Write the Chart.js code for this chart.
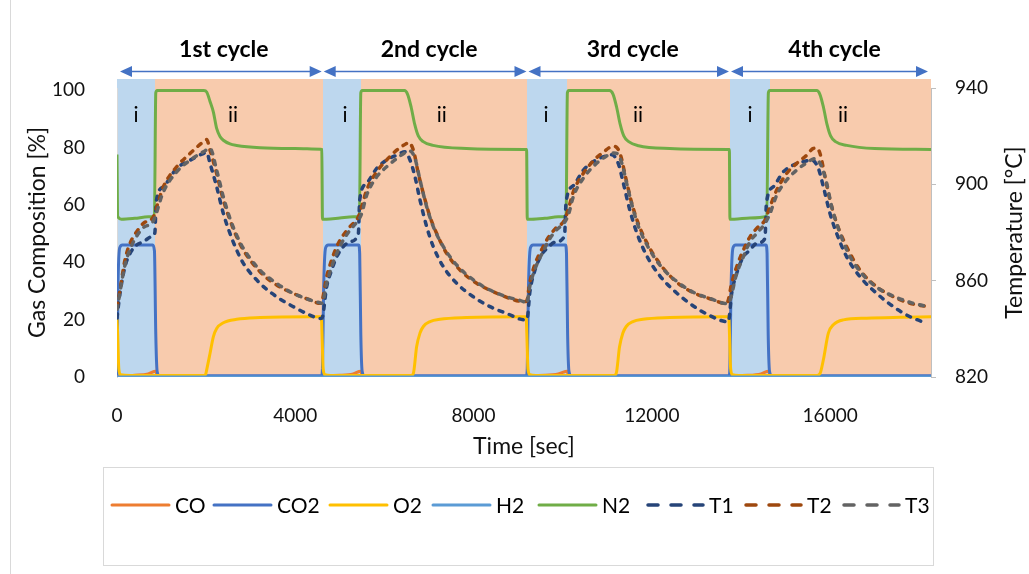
<!DOCTYPE html>
<html><head><meta charset="utf-8">
<script src="https://cdn.jsdelivr.net/npm/chart.js@4.4.1/dist/chart.umd.min.js"></script>
<style>html,body{margin:0;padding:0;background:#fff;}#wrap{width:1029px;height:574px;position:relative;}</style>
</head><body><div id="wrap"><canvas id="c" width="1029" height="574"></canvas></div>
<script>
// ---------- axis ticks ----------
const xTicks = [0, 4000, 8000, 12000, 16000];
const gasTicks = [0, 20, 40, 60, 80, 100];
const tempTicks = [820, 860, 900, 940];

// ---------- cycles / phases ----------
const cycleLabels = ['1st cycle', '2nd cycle', '3rd cycle', '4th cycle'];
const cycleStart = [0, 4615, 9210, 13754];
const oxidStart = [853, 5475, 10103, 14651];
const cycleEnd = [4615, 9210, 13754, 18263];
const phaseILabelT = [426, 5116, 9626, 14203];
const phaseIILabelT = [2603, 7285, 11690, 16289];
const phaseLabelGas = 91.2;

// ---------- gas composition [%] ----------
const coT = [0,400,700,830,870,900,960,4590, 4610,5000,5300,5430,5470,5500,5560,9180, 9200,9600,9900,10060,10100,10130,10190,13730, 13745,14150,14450,14580,14620,14650,14710,18263];
const coV = [0.3,0.6,1.1,1.9,2.0,0.4,0.2,0.2, 0.3,0.6,1.1,1.9,2.0,0.4,0.2,0.2, 0.3,0.6,1.1,1.9,2.0,0.4,0.2,0.2, 0.3,0.6,1.1,1.9,2.0,0.4,0.2,0.2];

const co2T = [0,20,60,120,500,800,840,870,900,950, 4590,4610,4635,4680,4740,5420,5445,5470,5500,5550, 9185,9205,9230,9275,9335,10060,10085,10110,10140,10190, 13735,13750,13775,13820,13880,14560,14585,14610,14640,14690,18263];
const co2V = [0.5,30,45,46,46,46,44,15,2,0.4, 0.4,3,30,45,46,46,43,15,2,0.4, 0.4,3,30,45,46,46,43,15,2,0.4, 0.4,3,30,45,46,46,43,15,2,0.4,0.4];

const o2T = [0,15,40,80,300,1950,1990,2012,2087,2161,2236,2386,2685,3209,4330,4585, 4600,4625,4665,4800,6600,6649,6723,6798,6873,7023,7247,7838,9042,9180, 9195,9220,9260,9400,11150,11200,11275,11350,11425,11575,11800,12400,13600,13725, 13742,13767,13807,13950,15700,15773,15848,15960,16072,16296,16820,17568,18263];
const o2V = [20.2,15,3,0.8,0.5,0.5,1.0,2.5,8.2,14.0,16.9,18.9,20.1,20.7,21.0,21.0, 15,3,0.8,0.5,0.5,1.2,10.6,15.3,17.6,19.3,20.1,20.7,21.0,21.0, 15,3,0.8,0.5,0.5,1.2,10.5,15.3,17.6,19.3,20.1,20.7,21.0,21.0, 15,3,0.8,0.5,0.5,1.2,6.0,15.3,18.2,19.9,20.5,20.8,21.0];

const h2T = [0, 18263];
const h2V = [0, 0];

const n2T = [0,15,100,400,700,840,870,900,1950,2012,2087,2161,2236,2311,2386,2535,2685,3209,4000,4575, 4595,4610,4700,5000,5300,5440,5470,5500,6450,6520,6600,6680,6760,6870,7090,7840,9140, 9190,9205,9300,9600,9900,10075,10105,10135,11050,11130,11210,11290,11370,11480,11700,12400,13720, 13739,13752,13850,14200,14580,14614,14644,15700,15770,15850,15930,16010,16120,16373,17000,18263];
const n2V = [77.5,56,55,55.3,55.8,56,99,99.8,99.8,99.3,96,92.4,86.6,83.8,82.5,81.2,80.7,79.9,79.6,79.4, 79.3,55,55,55.4,55.8,56,99,99.8,99.8,98.5,94,88,84,82,80.7,79.6,79.3, 79.3,55,55,55.3,55.8,56,99,99.8,99.8,98.5,94,88,84,82,80.6,79.6,79.3, 79.3,55,55,55.4,56,99,99.8,99.8,98.5,94,88,84,82,80.7,79.6,79.3];

// ---------- temperatures [°C] ----------
const t1T = [0,67,179,292,441,591,815,850,880,1040,1339,1638,1937,2012,2087,2236,2386,2535,2685,2835,3208,3582,3956,4330,4555,
  4600,4704,4816,4929,5078,5228,5415,5445,5602,5826,6050,6275,6462,6574,6686,6798,6948,7097,7322,7621,7995,8369,8743,9150,
  9200,9265,9380,9530,9680,9830,10040,10075,10240,10460,10690,10920,11100,11250,11360,11510,11660,11880,12180,12550,12930,13300,13690,
  13716,13791,13903,14053,14202,14352,14539,14570,14726,14950,15174,15399,15586,15736,15848,15997,16147,16371,16671,17045,17419,17793,18167];
const t1V = [844.5,854.7,865.8,871.3,874.8,876.2,878.9,880.0,892.8,899.0,906.6,910.0,912.8,913.2,908.7,899.0,887.9,879.6,872.7,867.2,858.9,853.3,849.2,845.7,844.3,
  844.5,857.5,864.4,869.9,874.1,876.2,879.6,893.5,900.4,906.6,910.1,912.1,913.5,910.1,903.1,893.5,882.4,874.1,865.8,858.9,853.3,849.2,846.4,843.7,
  844.0,855.5,864.5,870.8,874.0,876.0,878.5,892.5,899.5,905.8,909.5,911.5,912.3,908.5,900.5,889.0,880.0,870.5,862.0,855.0,849.5,845.5,843.0,
  843.0,854.7,863.0,869.9,872.7,875.5,877.6,892.1,899.0,905.2,908.0,909.4,910.1,906.6,899.0,887.9,879.6,869.9,861.6,854.7,849.2,845.0,842.3];

const t2T = [0,67,179,292,441,591,815,927,1040,1339,1638,1937,2012,2087,2236,2386,2535,2685,2835,3208,3582,3956,4330,4555,
  4600,4704,4816,4929,5078,5228,5415,5489,5602,5826,6050,6275,6499,6537,6649,6761,6873,7023,7172,7397,7696,8070,8444,8818,9117,
  9190,9265,9380,9530,9680,9830,10050,10130,10240,10460,10690,10920,11130,11200,11300,11410,11530,11680,11880,12180,12550,12930,13300,13680,
  13716,13791,13903,14053,14202,14352,14539,14651,14801,15025,15249,15474,15623,15698,15773,15885,15997,16147,16371,16670,17044,17418,17792,18203];
const t2V = [849.0,856.1,868.6,875.5,880.3,883.8,886.5,892.8,899.0,907.3,912.8,917.7,918.6,914.2,904.5,893.5,885.2,878.2,872.7,863.7,858.2,854.7,852.0,850.6,
  851.5,861.6,868.6,874.1,878.9,882.4,886.5,890.7,897.6,905.2,910.1,914.2,917.0,917.4,914.2,904.5,896.2,886.5,879.6,871.3,864.4,858.9,855.4,852.6,851.3,
  851.5,859.5,867.0,873.0,878.0,881.5,885.5,890.0,897.0,904.5,909.8,913.5,915.8,915.5,912.0,903.0,893.5,884.5,876.0,867.0,859.5,855.0,852.5,850.5,
  852.0,858.9,865.8,872.7,878.2,881.7,885.2,890.7,897.6,904.5,908.7,912.1,914.9,915.0,912.8,903.1,893.5,883.8,874.1,864.4,857.5,853.3,850.6,849.2];

const t3T = [0,179,292,441,591,815,1040,1339,1638,1937,2087,2236,2386,2535,2685,2835,3208,3582,3956,4330,4555,
  4600,4704,4816,4929,5078,5228,5415,5489,5602,5826,6050,6275,6499,6574,6686,6798,6948,7097,7322,7621,7995,8369,8743,9117,
  9190,9265,9380,9530,9680,9830,10050,10130,10240,10460,10690,10920,11150,11240,11330,11440,11560,11700,11900,12200,12570,12950,13320,13680,
  13716,13903,14053,14202,14352,14539,14651,14801,15025,15249,15474,15661,15810,15923,16035,16184,16409,16708,17082,17456,17830,18203];
const t3V = [848.0,866.5,873.0,878.5,882.0,884.8,896.9,905.2,910.0,913.5,914.9,905.9,894.8,885.8,878.9,873.4,864.4,858.9,854.7,852.0,850.8,
  850.6,858.9,865.8,871.3,876.9,881.0,885.2,887.9,895.5,903.1,907.3,910.7,913.5,913.8,910.7,901.8,890.7,882.4,874.1,866.5,860.3,856.1,853.3,851.3,
  850.5,858.0,865.0,871.0,876.5,880.5,884.5,887.5,895.0,902.5,907.5,911.0,913.0,912.5,908.5,900.0,891.0,882.5,874.5,866.0,859.5,855.0,852.5,850.5,
  850.6,863.0,869.9,876.2,879.6,883.8,887.9,895.5,901.8,905.9,908.9,910.7,907.3,900.4,890.7,881.7,871.3,863.0,856.8,853.3,850.8,849.2];

// ---------- build ----------
const pts = (ts, vs) => ts.map((t, i) => ({x: t, y: vs[i]}));
const FONT = 'Lato, "Open Sans", sans-serif';
const TXT = '#111';
const TITLE_SIZE = 23;

function gasDs(label, ts, vs, color, order) {
  return {label, data: pts(ts, vs), yAxisID: 'y', borderColor: color, backgroundColor: color,
    borderWidth: 3, pointRadius: 0, cubicInterpolationMode: 'monotone', order, fill: false};
}
function tempDs(label, ts, vs, color, order) {
  return {label, data: pts(ts, vs), yAxisID: 'y2', borderColor: color, backgroundColor: color,
    borderWidth: 3.5, borderDash: [4, 7], borderCapStyle: 'round', pointRadius: 0,
    cubicInterpolationMode: 'monotone', order, fill: false};
}

const datasets = [
  gasDs('CO', coT, coV, '#ED7D31', 8),
  gasDs('CO2', co2T, co2V, '#4472C4', 7),
  gasDs('O2', o2T, o2V, '#FFC000', 6),
  gasDs('H2', h2T, h2V, '#5B9BD5', 5),
  gasDs('N2', n2T, n2V, '#70AD47', 4),
  tempDs('T1', t1T, t1V, '#264478', 3),
  tempDs('T2', t2T, t2V, '#9E480E', 2),
  tempDs('T3', t3T, t3V, '#636363', 1)
];

const legendX = [112, 214, 330, 433, 539, 646, 744, 842];

const decor = {
  id: 'decor',
  beforeDraw(chart) {
    const {ctx, chartArea: a, scales: {x}} = chart;
    ctx.save();
    const top = a.top - 9;
    for (let k = 0; k < cycleStart.length; k++) {
      const x0 = Math.round(x.getPixelForValue(cycleStart[k]));
      const x1 = Math.round(x.getPixelForValue(oxidStart[k]));
      const x2 = Math.round(x.getPixelForValue(cycleEnd[k]));
      ctx.fillStyle = '#BDD7EE';
      ctx.fillRect(x0, top, x1 - x0, a.bottom - top);
      ctx.fillStyle = '#F8CBAD';
      ctx.fillRect(x1, top, x2 - x1, a.bottom - top);
    }
    ctx.restore();
  },
  afterDraw(chart) {
    const {ctx, chartArea: a, scales: {x, y}} = chart;
    ctx.save();
    // outer border (left)
    ctx.strokeStyle = '#d9d9d9'; ctx.lineWidth = 1;
    ctx.beginPath(); ctx.moveTo(10.5, 0); ctx.lineTo(10.5, 574); ctx.stroke();

    // right axis title (reads bottom-to-top)
    ctx.save();
    ctx.translate(1015, (a.top + a.bottom) / 2);
    ctx.rotate(-Math.PI / 2);
    ctx.fillStyle = TXT; ctx.font = TITLE_SIZE + 'px ' + FONT;
    ctx.textAlign = 'center'; ctx.textBaseline = 'middle';
    ctx.fillText('Temperature [°C]', 0, 0);
    ctx.restore();

    // arrows + cycle headings
    const ay = a.top - 16.5;
    ctx.strokeStyle = '#4472C4'; ctx.fillStyle = '#4472C4'; ctx.lineWidth = 1.5;
    for (let k = 0; k < cycleStart.length; k++) {
      const xs = x.getPixelForValue(cycleStart[k]) + (k === 0 ? 3 : 1);
      const xe = x.getPixelForValue(cycleEnd[k]) - (k === cycleStart.length - 1 ? 3 : 1);
      ctx.beginPath(); ctx.moveTo(xs + 6, ay); ctx.lineTo(xe - 6, ay); ctx.stroke();
      ctx.beginPath(); ctx.moveTo(xs, ay); ctx.lineTo(xs + 12, ay - 5.5); ctx.lineTo(xs + 12, ay + 5.5); ctx.closePath(); ctx.fill();
      ctx.beginPath(); ctx.moveTo(xe, ay); ctx.lineTo(xe - 12, ay - 5.5); ctx.lineTo(xe - 12, ay + 5.5); ctx.closePath(); ctx.fill();
    }
    ctx.fillStyle = '#000';
    ctx.font = 'bold 23px ' + FONT;
    ctx.textAlign = 'center'; ctx.textBaseline = 'alphabetic';
    for (let k = 0; k < cycleStart.length; k++) {
      const cx = (x.getPixelForValue(cycleStart[k]) + x.getPixelForValue(cycleEnd[k])) / 2 + 4;
      ctx.fillText(cycleLabels[k], cx, 57);
    }
    // phase labels
    ctx.font = '21px ' + FONT; ctx.textBaseline = 'middle';
    const py = y.getPixelForValue(phaseLabelGas);
    for (let k = 0; k < phaseILabelT.length; k++) {
      ctx.fillText('i', x.getPixelForValue(phaseILabelT[k]), py);
      ctx.fillText('ii', x.getPixelForValue(phaseIILabelT[k]), py);
    }
    // legend box
    ctx.strokeStyle = '#d9d9d9'; ctx.lineWidth = 1;
    ctx.strokeRect(103.5, 467.5, 830, 98);
    const ly = 505;
    ctx.font = '21px ' + FONT; ctx.textAlign = 'left'; ctx.textBaseline = 'middle';
    chart.data.datasets.forEach((ds, i) => {
      const lx = legendX[i];
      ctx.strokeStyle = ds.borderColor;
      ctx.lineWidth = 3;
      if (ds.borderDash) { ctx.setLineDash([10, 13]); ctx.lineCap = 'round'; ctx.lineWidth = 3.5; }
      else { ctx.setLineDash([]); ctx.lineCap = 'round'; }
      ctx.beginPath();
      ctx.moveTo(lx + (ds.borderDash ? 2 : 0), ly); ctx.lineTo(lx + 57, ly); ctx.stroke();
      ctx.setLineDash([]);
      ctx.fillStyle = '#000';
      ctx.fillText(ds.label, lx + 63, ly + 1);
    });
    ctx.restore();
  }
};

new Chart(document.getElementById('c'), {
  type: 'line',
  data: {datasets},
  options: {
    responsive: false, animation: false, devicePixelRatio: 1,
    layout: {padding: {top: 88, left: 0, right: 0, bottom: 114}},
    plugins: {legend: {display: false}, tooltip: {enabled: false}},
    elements: {line: {tension: 0}},
    scales: {
      x: {
        type: 'linear', position: 'bottom', min: 0, max: 18263,
        afterBuildTicks: s => { s.ticks = xTicks.map(v => ({value: v})); },
        afterFit: s => { s.height = 83; },
        grid: {display: false}, border: {display: false},
        ticks: {padding: 19, color: TXT, font: {family: FONT, size: 19}, callback: v => String(v), maxRotation: 0},
        title: {display: true, text: 'Time [sec]', color: TXT, font: {family: FONT, size: TITLE_SIZE}, padding: {top: 0, bottom: 0}}
      },
      y: {
        type: 'linear', position: 'left', min: 0, max: 100.7,
        afterBuildTicks: s => { s.ticks = gasTicks.map(v => ({value: v})); },
        afterFit: s => { s.width = 117; },
        grid: {display: false}, border: {display: true, color: '#d9d9d9', width: 1},
        ticks: {padding: 24, color: TXT, font: {family: FONT, size: 19}},
        title: {display: true, text: 'Gas Composition [%]', color: TXT, font: {family: FONT, size: TITLE_SIZE}, padding: {top: 24, bottom: 0}}
      },
      y2: {
        type: 'linear', position: 'right', min: 820, max: 940,
        afterBuildTicks: s => { s.ticks = tempTicks.map(v => ({value: v})); },
        afterFit: s => { s.width = 98; },
        grid: {display: true, drawOnChartArea: false, drawTicks: true, tickLength: 5, color: '#bfbfbf'},
        border: {display: true, color: '#bfbfbf', width: 1},
        ticks: {padding: 19, color: TXT, font: {family: FONT, size: 19}},
        title: {display: false}
      }
    }
  },
  plugins: [decor]
});
</script></body></html>
